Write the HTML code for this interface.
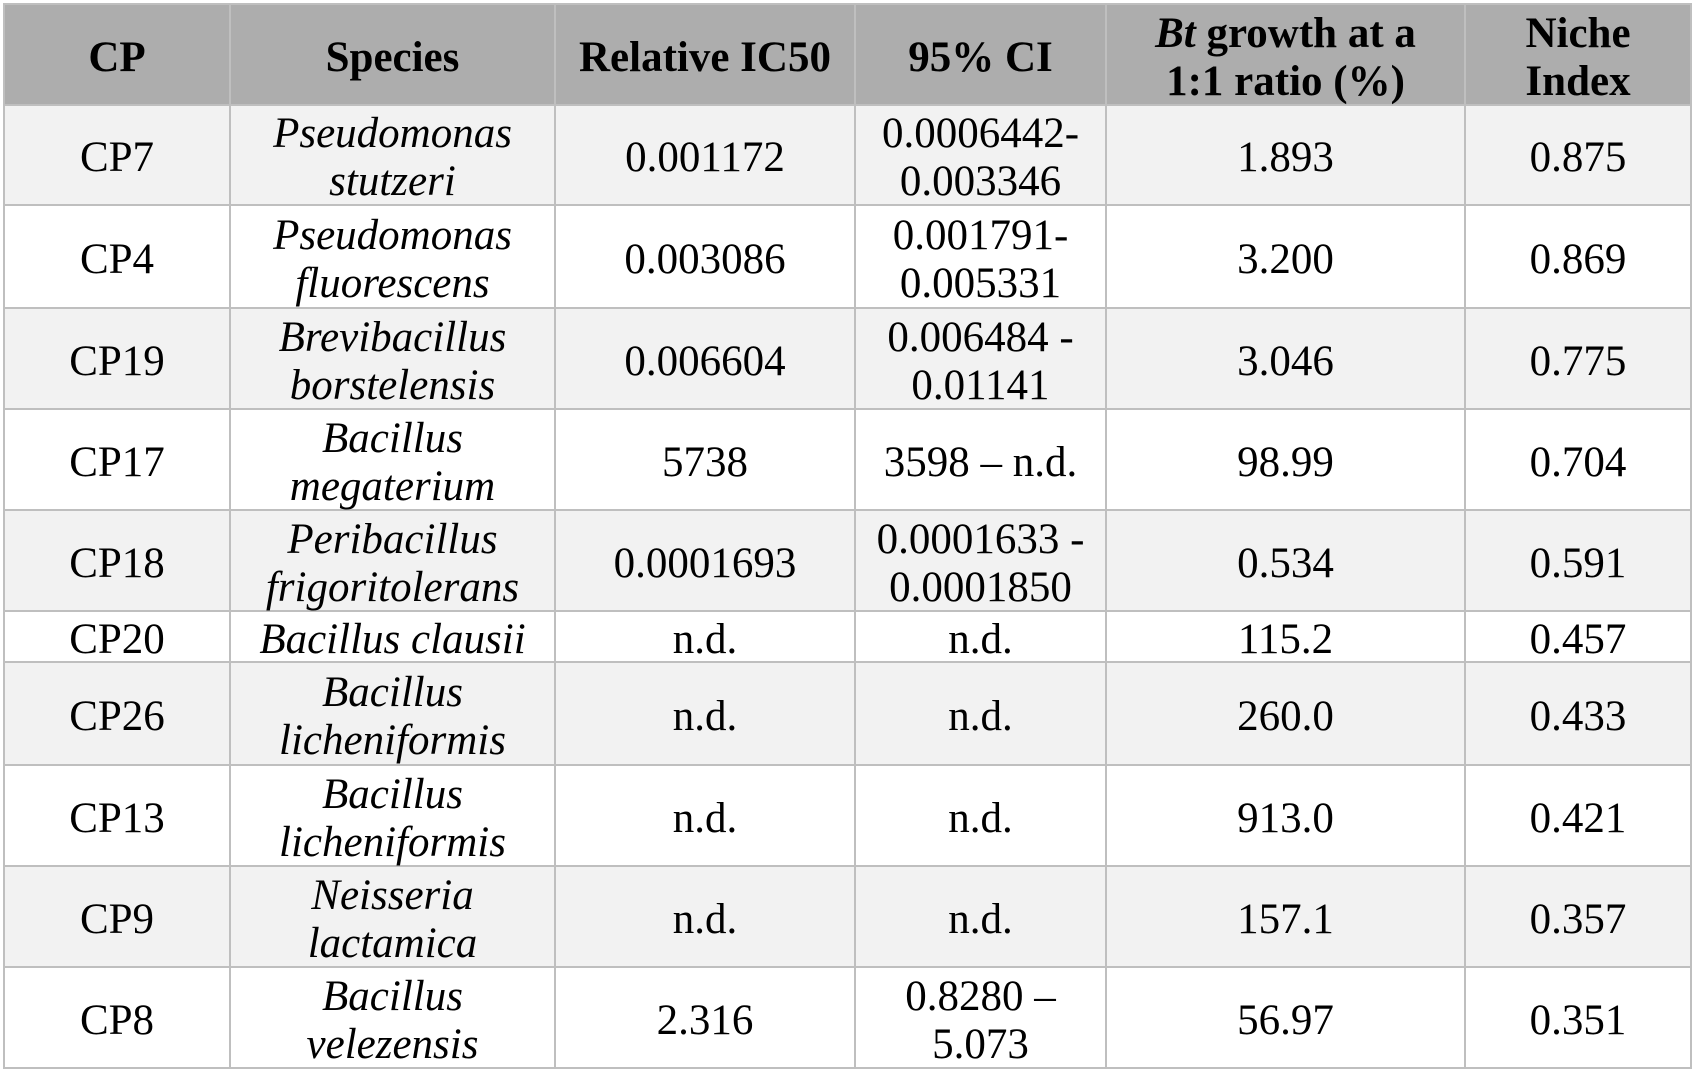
<!DOCTYPE html>
<html>
<head>
<meta charset="utf-8">
<style>
  html, body { margin:0; padding:0; background:#ffffff; }
  body { width:1695px; height:1072px; position:relative; overflow:hidden;
         font-family:"Liberation Serif", "Times New Roman", serif; color:#000; }
  .bg { position:absolute; }
  .c { position:absolute; display:flex; align-items:center; justify-content:center;
       text-align:center; font-size:43px; line-height:48px;
       box-sizing:border-box; padding-top:6px; }
  .h { font-weight:bold; }
  .i { font-style:italic; }
  .vl { position:absolute; width:2px; background:#bfbfbf; top:3px; height:1066px; }
  .hl { position:absolute; height:2px; background:#bfbfbf; left:3px; width:1689px; }
</style>
</head>
<body>
<!-- backgrounds -->
<div class="bg" style="left:4px;top:4px;width:1687px;height:101px;background:#adadad;"></div>
<div class="bg" style="left:4px;top:105px;width:1687px;height:100px;background:#f2f2f2;"></div>
<div class="bg" style="left:4px;top:308px;width:1687px;height:101px;background:#f2f2f2;"></div>
<div class="bg" style="left:4px;top:510px;width:1687px;height:101px;background:#f2f2f2;"></div>
<div class="bg" style="left:4px;top:662px;width:1687px;height:103px;background:#f2f2f2;"></div>
<div class="bg" style="left:4px;top:866px;width:1687px;height:101px;background:#f2f2f2;"></div>

<!-- grid lines -->
<div class="vl" style="left:3px;"></div>
<div class="vl" style="left:229px;"></div>
<div class="vl" style="left:554px;"></div>
<div class="vl" style="left:854px;"></div>
<div class="vl" style="left:1105px;"></div>
<div class="vl" style="left:1464px;"></div>
<div class="vl" style="left:1690px;"></div>

<div class="hl" style="top:3px;"></div>
<div class="hl" style="top:104px;"></div>
<div class="hl" style="top:204px;"></div>
<div class="hl" style="top:307px;"></div>
<div class="hl" style="top:408px;"></div>
<div class="hl" style="top:509px;"></div>
<div class="hl" style="top:610px;"></div>
<div class="hl" style="top:661px;"></div>
<div class="hl" style="top:764px;"></div>
<div class="hl" style="top:865px;"></div>
<div class="hl" style="top:966px;"></div>
<div class="hl" style="top:1067px;"></div>

<!-- header -->
<div class="c h" style="left:5px;top:5px;width:224px;height:99px;">CP</div>
<div class="c h" style="left:231px;top:5px;width:323px;height:99px;">Species</div>
<div class="c h" style="left:556px;top:5px;width:298px;height:99px;">Relative IC50</div>
<div class="c h" style="left:856px;top:5px;width:249px;height:99px;">95% CI</div>
<div class="c h" style="left:1107px;top:5px;width:357px;height:99px;"><span><i>Bt</i> growth at a<br>1:1 ratio (%)</span></div>
<div class="c h" style="left:1466px;top:5px;width:224px;height:99px;"><span>Niche<br>Index</span></div>

<!-- row CP7 -->
<div class="c" style="left:5px;top:106px;width:224px;height:98px;">CP7</div>
<div class="c i" style="left:231px;top:106px;width:323px;height:98px;"><span>Pseudomonas<br>stutzeri</span></div>
<div class="c" style="left:556px;top:106px;width:298px;height:98px;">0.001172</div>
<div class="c" style="left:856px;top:106px;width:249px;height:98px;"><span>0.0006442-<br>0.003346</span></div>
<div class="c" style="left:1107px;top:106px;width:357px;height:98px;">1.893</div>
<div class="c" style="left:1466px;top:106px;width:224px;height:98px;">0.875</div>

<!-- row CP4 -->
<div class="c" style="left:5px;top:206px;width:224px;height:101px;">CP4</div>
<div class="c i" style="left:231px;top:206px;width:323px;height:101px;"><span>Pseudomonas<br>fluorescens</span></div>
<div class="c" style="left:556px;top:206px;width:298px;height:101px;">0.003086</div>
<div class="c" style="left:856px;top:206px;width:249px;height:101px;"><span>0.001791-<br>0.005331</span></div>
<div class="c" style="left:1107px;top:206px;width:357px;height:101px;">3.200</div>
<div class="c" style="left:1466px;top:206px;width:224px;height:101px;">0.869</div>

<!-- row CP19 -->
<div class="c" style="left:5px;top:309px;width:224px;height:99px;">CP19</div>
<div class="c i" style="left:231px;top:309px;width:323px;height:99px;"><span>Brevibacillus<br>borstelensis</span></div>
<div class="c" style="left:556px;top:309px;width:298px;height:99px;">0.006604</div>
<div class="c" style="left:856px;top:309px;width:249px;height:99px;"><span>0.006484 -<br>0.01141</span></div>
<div class="c" style="left:1107px;top:309px;width:357px;height:99px;">3.046</div>
<div class="c" style="left:1466px;top:309px;width:224px;height:99px;">0.775</div>

<!-- row CP17 -->
<div class="c" style="left:5px;top:410px;width:224px;height:99px;">CP17</div>
<div class="c i" style="left:231px;top:410px;width:323px;height:99px;"><span>Bacillus<br>megaterium</span></div>
<div class="c" style="left:556px;top:410px;width:298px;height:99px;">5738</div>
<div class="c" style="left:856px;top:410px;width:249px;height:99px;">3598 – n.d.</div>
<div class="c" style="left:1107px;top:410px;width:357px;height:99px;">98.99</div>
<div class="c" style="left:1466px;top:410px;width:224px;height:99px;">0.704</div>

<!-- row CP18 -->
<div class="c" style="left:5px;top:511px;width:224px;height:99px;">CP18</div>
<div class="c i" style="left:231px;top:511px;width:323px;height:99px;"><span>Peribacillus<br>frigoritolerans</span></div>
<div class="c" style="left:556px;top:511px;width:298px;height:99px;">0.0001693</div>
<div class="c" style="left:856px;top:511px;width:249px;height:99px;"><span>0.0001633 -<br>0.0001850</span></div>
<div class="c" style="left:1107px;top:511px;width:357px;height:99px;">0.534</div>
<div class="c" style="left:1466px;top:511px;width:224px;height:99px;">0.591</div>

<!-- row CP20 -->
<div class="c" style="left:5px;top:612px;width:224px;height:49px;">CP20</div>
<div class="c i" style="left:231px;top:612px;width:323px;height:49px;">Bacillus clausii</div>
<div class="c" style="left:556px;top:612px;width:298px;height:49px;">n.d.</div>
<div class="c" style="left:856px;top:612px;width:249px;height:49px;">n.d.</div>
<div class="c" style="left:1107px;top:612px;width:357px;height:49px;">115.2</div>
<div class="c" style="left:1466px;top:612px;width:224px;height:49px;">0.457</div>

<!-- row CP26 -->
<div class="c" style="left:5px;top:663px;width:224px;height:101px;">CP26</div>
<div class="c i" style="left:231px;top:663px;width:323px;height:101px;"><span>Bacillus<br>licheniformis</span></div>
<div class="c" style="left:556px;top:663px;width:298px;height:101px;">n.d.</div>
<div class="c" style="left:856px;top:663px;width:249px;height:101px;">n.d.</div>
<div class="c" style="left:1107px;top:663px;width:357px;height:101px;">260.0</div>
<div class="c" style="left:1466px;top:663px;width:224px;height:101px;">0.433</div>

<!-- row CP13 -->
<div class="c" style="left:5px;top:766px;width:224px;height:99px;">CP13</div>
<div class="c i" style="left:231px;top:766px;width:323px;height:99px;"><span>Bacillus<br>licheniformis</span></div>
<div class="c" style="left:556px;top:766px;width:298px;height:99px;">n.d.</div>
<div class="c" style="left:856px;top:766px;width:249px;height:99px;">n.d.</div>
<div class="c" style="left:1107px;top:766px;width:357px;height:99px;">913.0</div>
<div class="c" style="left:1466px;top:766px;width:224px;height:99px;">0.421</div>

<!-- row CP9 -->
<div class="c" style="left:5px;top:867px;width:224px;height:99px;">CP9</div>
<div class="c i" style="left:231px;top:867px;width:323px;height:99px;"><span>Neisseria<br>lactamica</span></div>
<div class="c" style="left:556px;top:867px;width:298px;height:99px;">n.d.</div>
<div class="c" style="left:856px;top:867px;width:249px;height:99px;">n.d.</div>
<div class="c" style="left:1107px;top:867px;width:357px;height:99px;">157.1</div>
<div class="c" style="left:1466px;top:867px;width:224px;height:99px;">0.357</div>

<!-- row CP8 -->
<div class="c" style="left:5px;top:968px;width:224px;height:99px;">CP8</div>
<div class="c i" style="left:231px;top:968px;width:323px;height:99px;"><span>Bacillus<br>velezensis</span></div>
<div class="c" style="left:556px;top:968px;width:298px;height:99px;">2.316</div>
<div class="c" style="left:856px;top:968px;width:249px;height:99px;"><span>0.8280 –<br>5.073</span></div>
<div class="c" style="left:1107px;top:968px;width:357px;height:99px;">56.97</div>
<div class="c" style="left:1466px;top:968px;width:224px;height:99px;">0.351</div>
</body>
</html>
